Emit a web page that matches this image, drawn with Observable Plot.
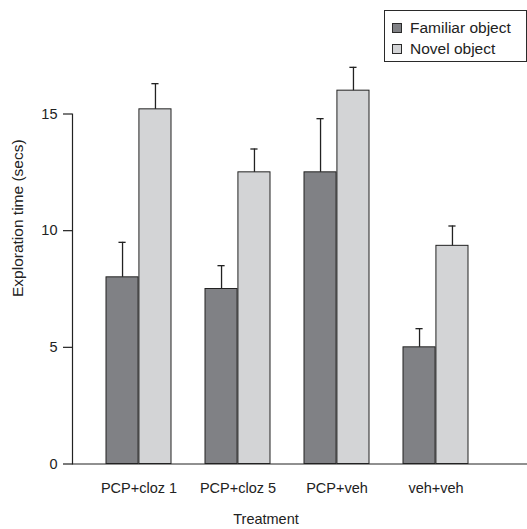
<!DOCTYPE html>
<html>
<head>
<meta charset="utf-8">
<script src="https://cdn.jsdelivr.net/npm/d3@7"></script>
<script src="https://cdn.jsdelivr.net/npm/@observablehq/plot@0.6"></script>
<style>
  html, body { margin: 0; padding: 0; background: #fff; }
  #wrap { position: relative; width: 527px; height: 529px; font-family: "Liberation Sans", Arial, sans-serif; }
  #legend { position: absolute; left: 384px; top: 10px; width: 141px; height: 50px; border: 1px solid #2a2a2a; background: #fff; color: #222; font-size: 15.5px; }
  .row { position: absolute; left: 0; height: 20px; display: flex; align-items: center; }
  .sw { width: 8px; height: 8px; border: 1px solid #2a2a2a; margin-left: 7px; margin-right: 8px; }
</style>
</head>
<body>
<div id="wrap"></div>
<script>
const treatments = ["PCP+cloz 1", "PCP+cloz 5", "PCP+veh", "veh+veh"];
const familiarMean = [8.0, 7.5, 12.5, 5.0];
const familiarUpper = [9.5, 8.5, 14.8, 5.8];
const novelMean = [15.2, 12.5, 16.0, 9.35];
const novelUpper = [16.3, 13.5, 17.0, 10.2];
const seriesNames = ["Familiar object", "Novel object"];
const seriesColors = ["#808185", "#d3d4d6"];
const yTicks = [0, 5, 10, 15];
const xLabel = "Treatment";
const yLabel = "Exploration time (secs)";

const familiar = treatments.map((t, i) => ({treatment: t, mean: familiarMean[i], upper: familiarUpper[i]}));
const novel = treatments.map((t, i) => ({treatment: t, mean: novelMean[i], upper: novelUpper[i]}));

const xRange = [88, 487];
const padInner = 0.34, padOuter = 0.17;
const step = (xRange[1] - xRange[0]) / (treatments.length - padInner + 2 * padOuter);
const bw = step * (1 - padInner);
const half = bw / 2;
const capW = 8;
const ink = "#222";

const chart = Plot.plot({
  width: 527,
  height: 529,
  marginLeft: 72,
  marginRight: 0,
  marginTop: 113.5,
  marginBottom: 65.5,
  style: {fontFamily: "'Liberation Sans', Arial, sans-serif", fontSize: "14px", color: ink, background: "#fff"},
  x: {type: "band", domain: treatments, range: xRange, paddingInner: padInner, paddingOuter: padOuter},
  y: {domain: [0, 15]},
  marks: [
    Plot.barY(familiar, {x: "treatment", y: "mean", fill: seriesColors[0], stroke: ink, strokeWidth: 1, insetRight: half}),
    Plot.barY(novel, {x: "treatment", y: "mean", fill: seriesColors[1], stroke: ink, strokeWidth: 1, insetLeft: half}),
    Plot.ruleX(familiar, {x: "treatment", y1: "mean", y2: "upper", dx: -bw / 4, stroke: ink, strokeWidth: 1.3}),
    Plot.ruleX(novel, {x: "treatment", y1: "mean", y2: "upper", dx: bw / 4, stroke: ink, strokeWidth: 1.3}),
    Plot.tickY(familiar, {x: "treatment", y: "upper", insetLeft: bw / 4 - capW / 2, insetRight: 3 * bw / 4 - capW / 2, stroke: ink, strokeWidth: 1.3}),
    Plot.tickY(novel, {x: "treatment", y: "upper", insetLeft: 3 * bw / 4 - capW / 2, insetRight: bw / 4 - capW / 2, stroke: ink, strokeWidth: 1.3}),
    Plot.frame({anchor: "left", stroke: ink, strokeWidth: 1.2}),
    Plot.ruleY([0], {stroke: ink, strokeWidth: 1.2}),
    Plot.axisY({ticks: yTicks, tickSize: 9, tickPadding: 6, label: null, fontSize: 14.5, stroke: ink, strokeWidth: 1.2}),
    Plot.axisX({tickSize: 0, tickPadding: 19, label: null, fontSize: 14.5}),
    Plot.text([xLabel], {text: d => d, frameAnchor: "bottom", dx: -34, dy: 60, fontSize: 14.5, fill: ink}),
    Plot.text([yLabel], {text: d => d, frameAnchor: "left", rotate: -90, dx: -54, dy: 8, fontSize: 15.5, fill: ink})
  ]
});

const wrap = document.getElementById("wrap");
wrap.appendChild(chart);

const legend = document.createElement("div");
legend.id = "legend";
seriesNames.forEach((name, i) => {
  const row = document.createElement("div");
  row.className = "row";
  row.style.top = (7 + i * 21) + "px";
  const sw = document.createElement("div");
  sw.className = "sw";
  sw.style.background = seriesColors[i];
  const label = document.createElement("span");
  label.textContent = name;
  row.appendChild(sw);
  row.appendChild(label);
  legend.appendChild(row);
});
wrap.appendChild(legend);
</script>
</body>
</html>
